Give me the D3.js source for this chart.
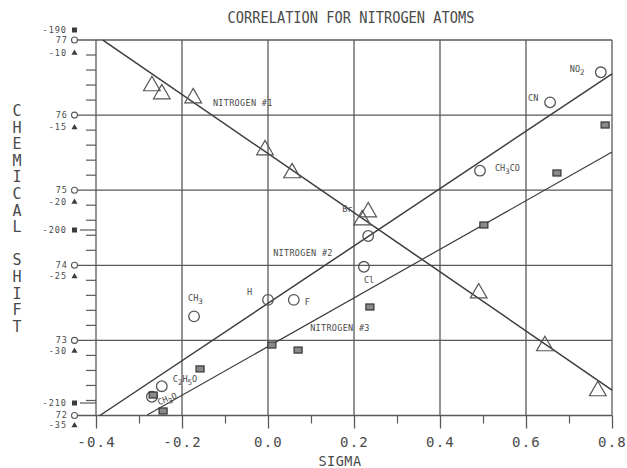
<!DOCTYPE html>
<html>
<head>
<meta charset="utf-8">
<script src="https://cdn.jsdelivr.net/npm/d3@7"></script>
<style>
  body { margin: 0; background: #fff; }
  svg text { font-family: "DejaVu Sans Mono", monospace; fill: #4a4a4a; }
</style>
</head>
<body>
<div id="chart"></div>
<script>
// substituents, in order of the circle series
const substituents = ["CH3O", "C2H5O", "CH3", "H", "F", "Cl", "Br", "CH3CO", "CN", "NO2"];

// nitrogen #1 (triangles), shift on the -10..-35 scale
const sigmaN1 = [-0.270, -0.247, -0.174, -0.007, 0.056, 0.233, 0.219, 0.490, 0.644, 0.767];
const shiftN1 = [-12.21, -12.75, -13.02, -16.51, -18.05, -20.67, -21.21, -26.11, -29.66, -32.68];

// nitrogen #2 (circles), shift on the 72..77 scale
const sigmaN2 = [-0.270, -0.247, -0.172, 0.000, 0.060, 0.223, 0.233, 0.493, 0.656, 0.774];
const shiftN2 = [72.25, 72.39, 73.32, 73.54, 73.54, 73.98, 74.39, 75.26, 76.17, 76.57];

// nitrogen #3 (squares), shift on the -190..-210 scale
const sigmaN3 = [-0.267, -0.244, -0.158, 0.009, 0.070, 0.237, 0.502, 0.672, 0.784];
const shiftN3 = [-209.54, -210.46, -208.03, -206.65, -206.94, -204.45, -199.75, -197.15, -194.75];

// fitted lines (end points)
const fitN1 = { sigma: [-0.384, 0.8], shift: [-9.13, -32.62] };
const fitN2 = { sigma: [-0.391, 0.8], shift: [72.0, 76.55] };
const fitN3 = { sigma: [-0.281, 0.8], shift: [-210.69, -196.1] };

const xTicks = [-0.4, -0.2, 0.0, 0.2, 0.4, 0.6, 0.8];
const xMinor = [-0.3, -0.1, 0.1, 0.3, 0.5, 0.7];
const ppmTicks = [72, 73, 74, 75, 76, 77];
const triTicks = [-10, -15, -20, -25, -30, -35];
const sqTicks = [-190, -200, -210];

const width = 627, height = 468;
const svg = d3.select("#chart").append("svg")
  .attr("width", width)
  .attr("height", height);

const x = d3.scaleLinear().domain([-0.4, 0.8]).range([96, 612]);
const yN2 = d3.scaleLinear().domain([72, 77]).range([415.5, 40]);
const yN1 = d3.scaleLinear().domain([-10, -35]).range([53, 425.5]);
const yN3 = d3.scaleLinear().domain([-190, -200, -210]).range([30, 230, 403]);

const grid = "#595959", ink = "#3c3c3c";
const plotLeft = x(-0.4), plotRight = x(0.8), plotTop = yN2(77), plotBottom = yN2(72);

// title
svg.append("text")
  .attr("x", 351).attr("y", 23)
  .attr("text-anchor", "middle")
  .attr("font-size", 15.5)
  .attr("textLength", 247).attr("lengthAdjust", "spacingAndGlyphs")
  .text("CORRELATION FOR NITROGEN ATOMS");

// grid
svg.append("g").selectAll("line")
  .data(xTicks).join("line")
  .attr("x1", d => x(d)).attr("x2", d => x(d))
  .attr("y1", plotTop).attr("y2", plotBottom)
  .attr("stroke", grid).attr("stroke-width", 1.3);

svg.append("g").selectAll("line")
  .data(ppmTicks).join("line")
  .attr("x1", 78).attr("x2", plotRight)
  .attr("y1", d => yN2(d)).attr("y2", d => yN2(d))
  .attr("stroke", grid).attr("stroke-width", 1.3);

// x axis
const xAxis = svg.append("g")
  .attr("transform", `translate(0,${plotBottom})`)
  .call(d3.axisBottom(x).tickValues(xTicks).tickSize(13).tickPadding(9)
    .tickFormat(d => d.toFixed(1)));
xAxis.select(".domain").remove();
xAxis.selectAll("line").attr("stroke", grid).attr("stroke-width", 1.3);
xAxis.selectAll("text")
  .attr("font-size", 14).attr("letter-spacing", 1.2)
  .style("font-family", '"DejaVu Sans Mono", monospace').attr("fill", "#4a4a4a");

const xMin = svg.append("g")
  .attr("transform", `translate(0,${plotBottom})`)
  .call(d3.axisBottom(x).tickValues(xMinor).tickSize(8).tickFormat(""));
xMin.select(".domain").remove();
xMin.selectAll("line").attr("stroke", grid).attr("stroke-width", 1.2);

svg.append("text")
  .attr("x", 340).attr("y", 466)
  .attr("text-anchor", "middle")
  .attr("font-size", 13.5).attr("letter-spacing", 0.5)
  .text("SIGMA");

// y minor ticks
const minor = d3.range(72.2, 77, 0.2).filter(v => Math.abs(v - Math.round(v)) > 0.05);
svg.append("g").selectAll("line")
  .data(minor).join("line")
  .attr("x1", plotLeft - 10).attr("x2", plotLeft)
  .attr("y1", d => yN2(d)).attr("y2", d => yN2(d))
  .attr("stroke", grid).attr("stroke-width", 1.2);

// y labels, three scales
const yl = svg.append("g").attr("font-size", 8.5).attr("letter-spacing", 1);

yl.selectAll(".ppm").data(ppmTicks).join("text")
  .attr("x", 68).attr("y", d => yN2(d)).attr("dy", "0.35em")
  .attr("text-anchor", "end").text(d => d);
yl.selectAll(".ppmc").data(ppmTicks).join("circle")
  .attr("cx", 74.5).attr("cy", d => yN2(d)).attr("r", 3)
  .attr("fill", "#fff").attr("stroke", grid).attr("stroke-width", 1.1);

yl.selectAll(".tri").data(triTicks).join("text")
  .attr("x", 67).attr("y", d => yN1(d)).attr("dy", "0.35em")
  .attr("text-anchor", "end").text(d => String(d));
yl.selectAll(".tris").data(triTicks).join("path")
  .attr("transform", d => `translate(74.5,${yN1(d)})`)
  .attr("d", d3.symbol(d3.symbolTriangle, 16))
  .attr("fill", ink);

yl.selectAll(".sq").data(sqTicks).join("text")
  .attr("x", 67).attr("y", d => yN3(d)).attr("dy", "0.35em")
  .attr("text-anchor", "end").text(d => String(d));
yl.selectAll(".sqs").data(sqTicks).join("rect")
  .attr("x", 72).attr("y", d => yN3(d) - 2.5)
  .attr("width", 5).attr("height", 5)
  .attr("fill", ink);
svg.append("g").selectAll("line")
  .data(sqTicks.slice(1)).join("line")
  .attr("x1", 80).attr("x2", plotLeft)
  .attr("y1", d => yN3(d)).attr("y2", d => yN3(d))
  .attr("stroke", grid).attr("stroke-width", 1.2);

// vertical axis title
const yTitle = "CHEMICAL SHIFT".split("");
svg.append("g").selectAll("text")
  .data(yTitle).join("text")
  .attr("x", 17).attr("y", (d, i) => 116 + i * 16.6)
  .attr("text-anchor", "middle")
  .attr("font-size", 15).attr("fill", "#5a5a5a")
  .text(d => d);

// fitted lines
const line = y => d3.line().x(d => x(d[0])).y(d => y(d[1]));
[[fitN1, yN1], [fitN2, yN2], [fitN3, yN3]].forEach(([f, y], i) => {
  svg.append("path")
    .datum(d3.zip(f.sigma, f.shift))
    .attr("d", line(y))
    .attr("fill", "none")
    .attr("stroke", ink)
    .attr("stroke-width", i === 2 ? 1.2 : 1.5);
});

// markers
svg.append("g").selectAll("path")
  .data(d3.zip(sigmaN1, shiftN1)).join("path")
  .attr("transform", d => `translate(${x(d[0])},${yN1(d[1])})`)
  .attr("d", d3.symbol(d3.symbolTriangle, 120))
  .attr("fill", "none").attr("stroke", "#555").attr("stroke-width", 1.2);

svg.append("g").selectAll("circle")
  .data(d3.zip(sigmaN2, shiftN2)).join("circle")
  .attr("cx", d => x(d[0])).attr("cy", d => yN2(d[1])).attr("r", 5.3)
  .attr("fill", "none").attr("stroke", "#555").attr("stroke-width", 1.3);

svg.append("g").selectAll("rect")
  .data(d3.zip(sigmaN3, shiftN3)).join("rect")
  .attr("x", d => x(d[0]) - 4).attr("y", d => yN3(d[1]) - 3)
  .attr("width", 8).attr("height", 6)
  .attr("fill", "#8a8a8a").attr("stroke", "#333").attr("stroke-width", 1.2);

// substituent labels, offsets from the circle (or triangle for Br)
const labelOffset = {
  "NO2": [-31, 3], "CN": [-22, 2], "CH3CO": [15, 3], "Cl": [0, 19],
  "H": [-21, -2], "F": [11, 8], "CH3": [-6, -12], "C2H5O": [11, -1]
};
const sub = s => s.split(/(\d)/).filter(p => p);
const lab = svg.append("g").attr("font-size", 8.5).attr("fill", "#555");

substituents.forEach((s, i) => {
  let px, py, off;
  if (s === "Br") { px = x(sigmaN1[5]); py = yN1(shiftN1[5]); off = [-26, 3]; }
  else if (s === "CH3O") { px = x(sigmaN3[1]); py = yN3(shiftN3[1]); off = [-3, -3]; }
  else { px = x(sigmaN2[i]); py = yN2(shiftN2[i]); off = labelOffset[s]; }
  const t = lab.append("text")
    .attr("x", px + off[0]).attr("y", py + off[1]);
  if (s === "CH3O") t.attr("transform", `rotate(-22,${px + off[0]},${py + off[1]})`).attr("fill", "#999");
  sub(s).forEach(p => {
    const isNum = /\d/.test(p);
    t.append("tspan")
      .attr("dy", isNum ? 3 : (t.selectAll("tspan").size() ? -3 : 0))
      .attr("font-size", isNum ? 7.5 : 8.5)
      .text(p);
  });
});

// series labels
const names = [["NITROGEN #1", -0.128, 76.12], ["NITROGEN #2", 0.012, 74.12], ["NITROGEN #3", 0.098, 73.12]];
svg.append("g").selectAll("text")
  .data(names).join("text")
  .attr("x", d => x(d[1])).attr("y", d => yN2(d[2]))
  .attr("font-size", 8.5).attr("letter-spacing", 0.3).attr("fill", "#555")
  .text(d => d[0]);
</script>
</body>
</html>
